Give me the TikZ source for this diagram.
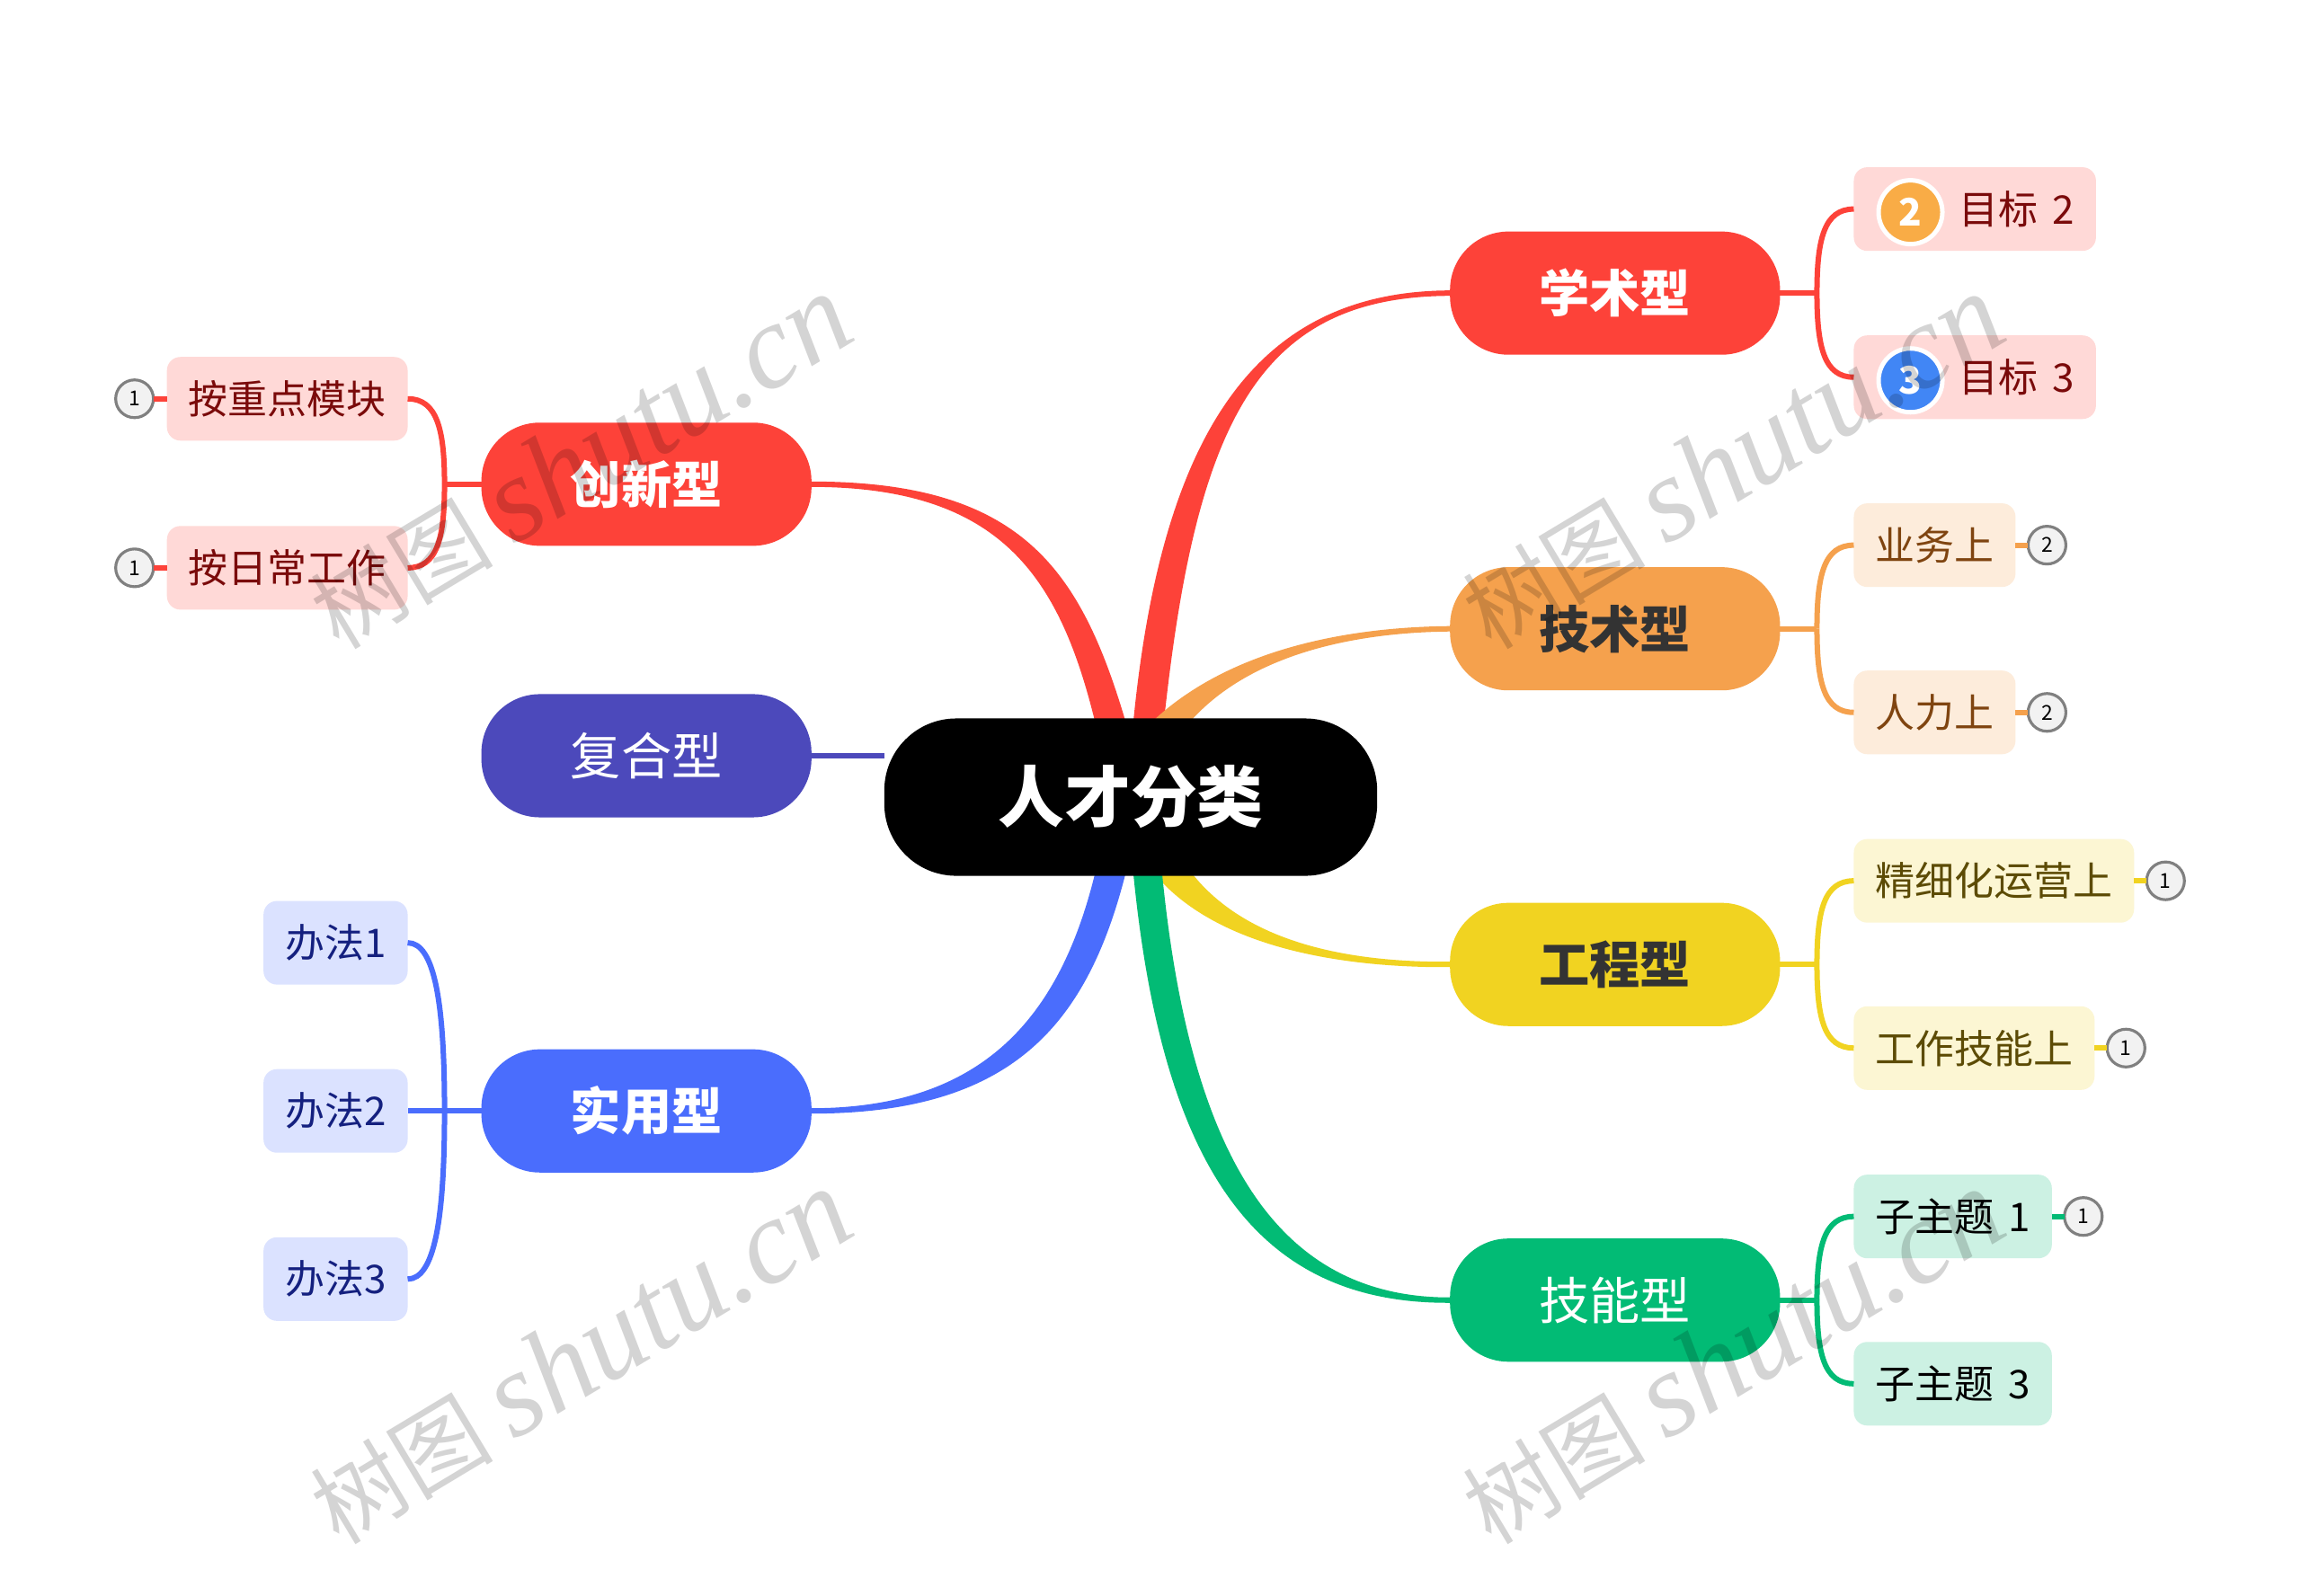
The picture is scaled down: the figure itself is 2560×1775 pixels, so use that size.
\documentclass[tikz,border=0pt]{standalone}
\usepackage{fontspec}
\setmainfont{Noto Sans CJK SC}
\newfontfamily\markfont{Liberation Serif}
\usetikzlibrary{positioning, backgrounds}

\definecolor{xred}{HTML}{FD4239}
\definecolor{xorange}{HTML}{F5A14D}
\definecolor{xyellow}{HTML}{F1D321}
\definecolor{xgreen}{HTML}{02BB75}
\definecolor{xblue}{HTML}{4A6DFD}
\definecolor{xviolet}{HTML}{4C49BB}
\definecolor{redtext}{HTML}{7A0A0A}
\definecolor{orangetext}{HTML}{7F4410}
\definecolor{yellowtext}{HTML}{5C4B05}
\definecolor{bluetext}{HTML}{14207F}
\definecolor{numorange}{HTML}{F9AC46}
\definecolor{numblue}{HTML}{4186F5}

\begin{document}
\begin{tikzpicture}[
		x=0.01cm, y=-0.01cm,
		outer sep=0pt,
		% Define styles
		rootnode/.style={rectangle, minimum width=5.48cm, minimum height=1.75cm, rounded corners=.8cm, fill=black, text=white, font=\fontsize{21}{24}\selectfont\bfseries},
		mainnode/.style={rectangle, minimum width=3.67cm, minimum height=1.37cm, rounded corners=.65cm, text=white, font=\fontsize{16}{19}\selectfont},
		boldnode/.style={mainnode, font=\fontsize{16}{19}\selectfont\bfseries},
		leaf/.style={rectangle, minimum height=.93cm, inner xsep=.24cm, inner ysep=0pt, rounded corners=.15cm, font=\fontsize{12.5}{15}\selectfont},
		redleaf/.style={leaf, fill=xred!20, text=redtext},
		orangeleaf/.style={leaf, fill=xorange!20, text=orangetext},
		yellowleaf/.style={leaf, fill=xyellow!20, text=yellowtext},
		greenleaf/.style={leaf, fill=xgreen!20, text=black},
		blueleaf/.style={leaf, fill=xblue!20, text=bluetext},
		badge/.style={circle, minimum size=.42cm, inner sep=0pt, draw=gray, fill=gray!10, line width=.9pt, font=\fontsize{6.5}{8}\selectfont},
		bigbadge/.style={circle, minimum size=.71cm, inner sep=0pt, draw=white, line width=.05cm, text=white, font=\fontsize{12}{14}\selectfont\bfseries},
		twig/.style={line width=.06cm},
		forkshort/.style={twig, out min distance=.6cm, out max distance=.6cm, in min distance=.33cm, in max distance=.33cm},
		forklong/.style={twig, out min distance=1.2cm, out max distance=1.2cm, in min distance=.3cm, in max distance=.3cm},
		watermark/.style={rotate=31, text=black, text opacity=.17, font=\fontsize{29}{38}\selectfont}
		]
		
		% Centre node
		\node (root) [rootnode] at (1258,887) {人才分类};
		
		% Right side
		\node (xueshu) [boldnode, fill=xred, above right=4.045cm and .81cm of root.north east, anchor=south west] {学术型};
		\node (jishu) [boldnode, fill=xorange, below=2.363cm of xueshu, text=black!80] {技术型};
		\node (gongcheng) [boldnode, fill=xyellow, below=2.363cm of jishu, text=black!80] {工程型};
		\node (jineng) [mainnode, fill=xgreen, below=2.363cm of gongcheng] {技能型};
		
		% Left side
		\node (fuhe) [mainnode, fill=xviolet, left=.81cm of root, yshift=.46cm] {复合型};
		\node (chuangxin) [boldnode, fill=xred, above=1.65cm of fuhe] {创新型};
		\node (shiyong) [boldnode, fill=xblue, below=2.58cm of fuhe] {实用型};
		
		% Leaves on the right
		\node (mubiaoA) [redleaf, minimum width=2.69cm, right=.82cm of xueshu, yshift=.935cm] {\hspace*{.93cm}目标\hspace{.16cm}2};
		\node (mubiaoB) [redleaf, minimum width=2.69cm, right=.82cm of xueshu, yshift=-.935cm] {\hspace*{.93cm}目标\hspace{.16cm}3};
		\node (yewu) [orangeleaf, right=.82cm of jishu, yshift=.93cm] {业务上};
		\node (renli) [orangeleaf, right=.82cm of jishu, yshift=-.93cm] {人力上};
		\node (jingxi) [yellowleaf, right=.82cm of gongcheng, yshift=.93cm] {精细化运营上};
		\node (jiqiao) [yellowleaf, right=.82cm of gongcheng, yshift=-.93cm] {工作技能上};
		\node (zizhuA) [greenleaf, right=.82cm of jineng, yshift=.93cm] {子主题\hspace{.16cm}1};
		\node (zizhuB) [greenleaf, right=.82cm of jineng, yshift=-.93cm] {子主题\hspace{.16cm}3};
		
		% Leaves on the left
		\node (zhongdian) [redleaf, left=.82cm of chuangxin, yshift=.95cm] {按重点模块};
		\node (richang) [redleaf, left=.82cm of chuangxin, yshift=-.93cm] {按日常工作};
		\node (banfaA) [blueleaf, left=.82cm of shiyong, yshift=1.87cm] {办法1};
		\node (banfaB) [blueleaf, left=.82cm of shiyong] {办法2};
		\node (banfaC) [blueleaf, left=.82cm of shiyong, yshift=-1.87cm] {办法3};
		
		% Badges
		\node (numA) [bigbadge, fill=numorange, right=.275cm of mubiaoA.west, yshift=-.035cm] {2};
		\node (numB) [bigbadge, fill=numblue, right=.275cm of mubiaoB.west, yshift=-.035cm] {3};
		\node (badgeA) [badge, right=.14cm of yewu] {2};
		\node (badgeB) [badge, right=.14cm of renli] {2};
		\node (badgeC) [badge, right=.14cm of jingxi] {1};
		\node (badgeD) [badge, right=.14cm of jiqiao] {1};
		\node (badgeE) [badge, right=.14cm of zizhuA] {1};
		\node (badgeF) [badge, left=.15cm of zhongdian] {1};
		\node (badgeG) [badge, left=.15cm of richang] {1};
		
		% Fork points
		\coordinate [right=.41cm of xueshu] (forkA);
		\coordinate [right=.41cm of jishu] (forkB);
		\coordinate [right=.41cm of gongcheng] (forkC);
		\coordinate [right=.41cm of jineng] (forkD);
		\coordinate [left=.41cm of chuangxin] (forkE);
		\coordinate [left=.41cm of shiyong] (forkF);
		
		% Draw forks
		\draw [twig, xred] (xueshu.east) -- (forkA);
		\draw [forkshort, xred] (forkA) to[out=90, in=180] (mubiaoA.west);
		\draw [forkshort, xred] (forkA) to[out=-90, in=180] (mubiaoB.west);
		\draw [twig, xorange] (jishu.east) -- (forkB);
		\draw [forkshort, xorange] (forkB) to[out=90, in=180] (yewu.west);
		\draw [forkshort, xorange] (forkB) to[out=-90, in=180] (renli.west);
		\draw [twig, xyellow] (gongcheng.east) -- (forkC);
		\draw [forkshort, xyellow] (forkC) to[out=90, in=180] (jingxi.west);
		\draw [forkshort, xyellow] (forkC) to[out=-90, in=180] (jiqiao.west);
		\draw [twig, xgreen] (jineng.east) -- (forkD);
		\draw [forkshort, xgreen] (forkD) to[out=90, in=180] (zizhuA.west);
		\draw [forkshort, xgreen] (forkD) to[out=-90, in=180] (zizhuB.west);
		\draw [twig, xred] (chuangxin.west) -- (forkE);
		\draw [forkshort, xred] (forkE) to[out=90, in=0] (zhongdian.east);
		\draw [forkshort, xred] (forkE) to[out=-90, in=0] (richang.east);
		\draw [twig, xblue] (shiyong.west) -- (banfaB.east);
		\draw [forklong, xblue] (forkF) to[out=90, in=0] (banfaA.east);
		\draw [forklong, xblue] (forkF) to[out=-90, in=0] (banfaC.east);
		
		% Draw badge links
		\draw [twig, xorange] (yewu) -- (badgeA);
		\draw [twig, xorange] (renli) -- (badgeB);
		\draw [twig, xyellow] (jingxi) -- (badgeC);
		\draw [twig, xyellow] (jiqiao) -- (badgeD);
		\draw [twig, xgreen] (zizhuA) -- (badgeE);
		\draw [twig, xred] (zhongdian) -- (badgeF);
		\draw [twig, xred] (richang) -- (badgeG);
		
		% Draw tapered branches behind the nodes
		\begin{scope}[on background layer]
			\fill [white] (0,0) rectangle (2560,1775);
			\coordinate (rootTA) at (1218,802);
			\coordinate (rootTB) at (1252,802);
			\coordinate (rootTC) at (1261,802);
			\coordinate (rootTD) at (1295,802);
			\coordinate (rootTE) at (1283,802);
			\coordinate (rootTF) at (1325,802);
			\coordinate (rootBA) at (1218,973);
			\coordinate (rootBB) at (1252,973);
			\coordinate (rootBC) at (1261,973);
			\coordinate (rootBD) at (1293,973);
			\coordinate (rootBE) at (1285,973);
			\coordinate (rootBF) at (1327,973);
			
			\fill [xred] ([yshift=.03cm]xueshu.west) .. controls (1398,324) and (1293,480) .. (rootTC) -- (rootTD) .. controls (1331,467) and (1401,330) .. ([yshift=-.03cm]xueshu.west) -- cycle;
			\fill [xorange] ([yshift=.03cm]jishu.west) .. controls (1480,698) and (1360,730) .. (rootTE) -- (rootTF) .. controls (1385,735) and (1490,704) .. ([yshift=-.03cm]jishu.west) -- cycle;
			\fill [xred] ([yshift=.03cm]chuangxin.east) .. controls (1134,536) and (1201,630) .. (rootTB) -- (rootTA) .. controls (1178,640) and (1112,542) .. ([yshift=-.03cm]chuangxin.east) -- cycle;
			\fill [xblue] ([yshift=.03cm]shiyong.east) .. controls (1091,1233) and (1178,1135) .. (rootBA) -- (rootBB) .. controls (1208,1145) and (1122,1239) .. ([yshift=-.03cm]shiyong.east) -- cycle;
			\fill [xyellow] ([yshift=.03cm]gongcheng.west) .. controls (1490,1071) and (1385,1045) .. (rootBF) -- (rootBE) .. controls (1350,1050) and (1480,1077) .. ([yshift=-.03cm]gongcheng.west) -- cycle;
			\fill [xgreen] ([yshift=.03cm]jineng.west) .. controls (1426,1444) and (1325,1295) .. (rootBD) -- (rootBC) .. controls (1294,1305) and (1401,1451) .. ([yshift=-.03cm]jineng.west) -- cycle;
			\draw [twig, xviolet] (fuhe.east) -- (fuhe.east -| root.west);
		\end{scope}
		
		% Watermarks
		\node (markA) [watermark] at (645,514) {树图 {\fontsize{38}{38}\selectfont\markfont\itshape shutu.cn}};
		\node (markB) [watermark] at (1927,514) {树图 {\fontsize{38}{38}\selectfont\markfont\itshape shutu.cn}};
		\node (markC) [watermark] at (645,1510) {树图 {\fontsize{38}{38}\selectfont\markfont\itshape shutu.cn}};
		\node (markD) [watermark] at (1927,1510) {树图 {\fontsize{38}{38}\selectfont\markfont\itshape shutu.cn}};
		
	\end{tikzpicture}
\end{document}
